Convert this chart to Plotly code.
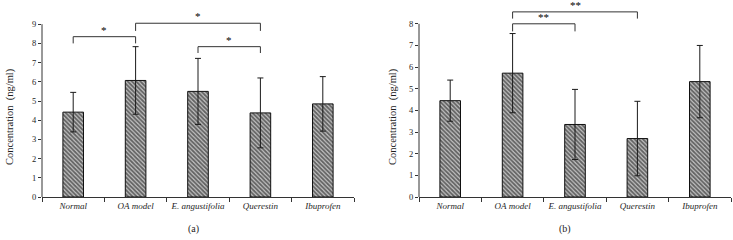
import plotly.graph_objects as go

categories = ["Normal", "OA model", "E. angustifolia", "Querestin", "Ibuprofen"]

# Panel (a)
values_a = [4.42, 6.07, 5.50, 4.38, 4.85]
errors_a = [1.03, 1.76, 1.72, 1.82, 1.42]
yticks_a = [0, 1, 2, 3, 4, 5, 6, 7, 8, 9]
# brackets: (left category, right category, top value, leg bottom value, label)
brackets_a = [
    ("Normal", "OA model", 8.35, 8.0, "*"),
    ("OA model", "Querestin", 9.05, 8.65, "*"),
    ("E. angustifolia", "Querestin", 7.83, 7.5, "*"),
]

# Panel (b)
values_b = [4.45, 5.72, 3.35, 2.70, 5.33]
errors_b = [0.95, 1.83, 1.62, 1.72, 1.67]
yticks_b = [0, 1, 2, 3, 4, 5, 6, 7, 8]
brackets_b = [
    ("OA model", "Querestin", 8.55, 8.24, "**"),
    ("OA model", "E. angustifolia", 8.0, 7.65, "**"),
]

FONT = "Liberation Serif"
INK = "#1e1e1e"

fig = go.Figure()

def add_panel(values, errors, brackets, xa, ya):
    fig.add_trace(go.Bar(
        x=categories, y=values, xaxis=xa, yaxis=ya,
        width=0.33,
        marker=dict(
            color="#b0b0b0",
            line=dict(color="#111111", width=1),
            pattern=dict(shape="\\", fgcolor="#000000", bgcolor="#c4c4c4",
                         size=3, solidity=0.6, fillmode="overlay"),
        ),
        error_y=dict(type="data", array=errors, visible=True,
                     color="#1a1a1a", thickness=1, width=3),
        showlegend=False, hoverinfo="skip",
    ))
    for c0, c1, top, leg, lab in brackets:
        fig.add_trace(go.Scatter(
            x=[c0, c0, c1, c1], y=[leg, top, top, leg],
            xaxis=xa, yaxis=ya, mode="lines",
            line=dict(color="#333333", width=1),
            showlegend=False, hoverinfo="skip",
        ))
        mid = (categories.index(c0) + categories.index(c1)) / 2
        fig.add_annotation(
            x=mid, y=top, xref=xa, yref=ya, text=lab, showarrow=False,
            yanchor="bottom", yshift=-1,
            font=dict(family=FONT, size=11, color="#000000"),
        )

add_panel(values_a, errors_a, brackets_a, "x", "y")
add_panel(values_b, errors_b, brackets_b, "x2", "y2")

W, H = 733, 240
plot_bottom = 197

def px(v):
    return v / W

xcommon = dict(
    type="category", showline=True, linecolor="#333333", linewidth=1,
    ticks="outside", tickson="boundaries", ticklen=4, tickcolor="#333333",
    tickangle=0,
    tickfont=dict(family=FONT, size=9, color=INK, style="italic"),
    showgrid=False, zeroline=False, fixedrange=True,
)
ycommon = dict(
    showline=False, ticks="outside", ticklen=3, tickcolor="#333333",
    tickfont=dict(family=FONT, size=8.5, color=INK),
    showgrid=False, zeroline=False, domain=[0, 1], fixedrange=True,
)

fig.update_layout(
    width=W, height=H,
    margin=dict(l=0, r=0, t=0, b=H - plot_bottom),
    paper_bgcolor="white", plot_bgcolor="white",
    bargap=0.67,
    xaxis=dict(domain=[px(42), px(354)], anchor="y", **xcommon),
    xaxis2=dict(domain=[px(419), px(731)], anchor="y2", **xcommon),
    yaxis=dict(anchor="x", range=[0, plot_bottom / 19.2],
               tickvals=yticks_a, **ycommon),
    yaxis2=dict(anchor="x2", range=[0, plot_bottom / 21.65],
                tickvals=yticks_b, **ycommon),
)

# y axis lines stopping at top tick
fig.add_shape(type="line", xref="x domain", yref="y", x0=0, x1=0,
              y0=0, y1=yticks_a[-1], line=dict(color="#333333", width=1))
fig.add_shape(type="line", xref="x2 domain", yref="y2", x0=0, x1=0,
              y0=0, y1=yticks_b[-1], line=dict(color="#333333", width=1))

# axis titles and panel labels
for xpos, txt in [(10, "Concentration  (ng/ml)"), (393, "Concentration  (ng/ml)")]:
    fig.add_annotation(x=px(xpos), y=1 - 117 / plot_bottom, xref="paper", yref="paper",
                       text=txt, textangle=-90, showarrow=False,
                       xanchor="center", yanchor="middle",
                       font=dict(family=FONT, size=10.5, color=INK))
for xpos, txt in [(193, "(a)"), (565, "(b)")]:
    fig.add_annotation(x=px(xpos), y=-(229 - plot_bottom) / plot_bottom,
                       xref="paper", yref="paper", text=txt, showarrow=False,
                       xanchor="center", yanchor="middle",
                       font=dict(family=FONT, size=10, color=INK))

fig.write_html("out.html",
               config={"displayModeBar": False, "staticPlot": True},
               post_script="document.body.style.margin='0';document.body.style.overflow='hidden';")
